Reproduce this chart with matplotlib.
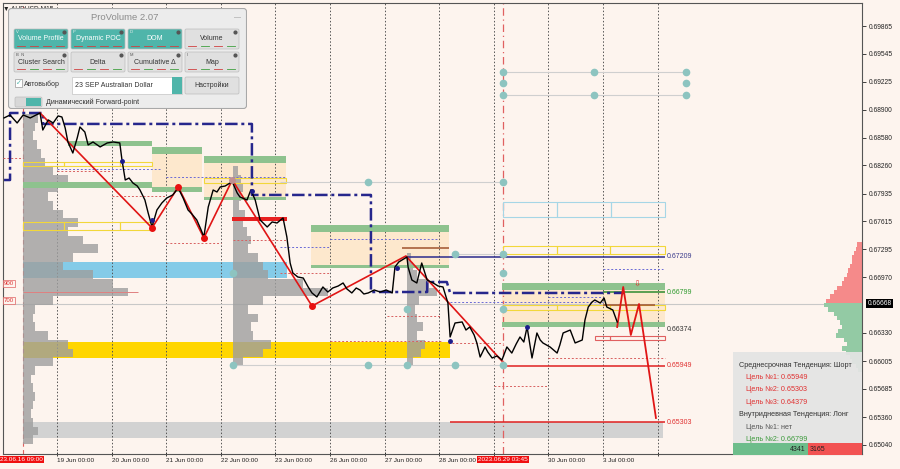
import matplotlib
matplotlib.use('Agg')
import matplotlib.pyplot as plt
import matplotlib.transforms as mtransforms
from matplotlib.patches import Rectangle, FancyBboxPatch

plt.rcParams['font.family'] = ['Liberation Sans', 'DejaVu Sans']

BG = '#fdf4ee'
PX_PER_DAY = 54.6          # width scale for the volume profiles
X_MIN, X_MAX = -0.989, 14.744
Y_MIN, Y_MAX = 0.64935, 0.70130

# ---------------- data ----------------
# x = trading days after 19 Jun 00:00 (weekend skipped), y = AUDUSD price
date_ticks = [0, 1, 2, 3, 4, 5, 6, 7, 8, 9, 10, 11]
date_labels = ['19 Jun 00:00', '20 Jun 00:00', '21 Jun 00:00', '22 Jun 00:00',
               '23 Jun 00:00', '26 Jun 00:00', '27 Jun 00:00', '28 Jun 00:00',
               '', '30 Jun 00:00', '3 Jul 00:00', '']
price_ticks = [0.69865, 0.69545, 0.69225, 0.68900, 0.68580, 0.68260, 0.67935,
               0.67615, 0.67295, 0.66970, 0.66330, 0.66005, 0.65685, 0.65360,
               0.65040]
last_price = 0.66668

price_t = [-0.97, -0.86, -0.73, -0.62, -0.49, -0.31, -0.26, -0.16, -0.07, 0.02,
           0.09, 0.15, 0.20, 0.29, 0.37, 0.42, 0.51, 0.57, 0.66, 0.79,
           0.92, 1.03, 1.15, 1.19, 1.25, 1.32, 1.39, 1.47, 1.52, 1.61,
           1.67, 1.74, 1.83, 1.92, 2.01, 2.12, 2.22, 2.31, 2.40, 2.47,
           2.56, 2.64, 2.69, 2.77, 2.86, 2.93, 2.99, 3.08, 3.17, 3.22,
           3.30, 3.35, 3.48, 3.55, 3.63, 3.72, 3.85, 3.94, 4.03, 4.14,
           4.21, 4.27, 4.32, 4.41, 4.51, 4.60, 4.67, 4.76, 4.87, 4.96,
           5.05, 5.15, 5.24, 5.31, 5.40, 5.48, 5.55, 5.62, 5.70, 5.81,
           5.92, 6.03, 6.14, 6.19, 6.26, 6.32, 6.41, 6.43, 6.50, 6.59,
           6.68, 6.78, 6.89, 6.98, 7.07, 7.16, 7.20, 7.29, 7.42, 7.49,
           7.56, 7.64, 7.69, 7.75, 7.84, 7.89, 7.97, 8.06, 8.15, 8.24,
           8.33, 8.41, 8.48, 8.55, 8.61, 8.70, 8.79, 8.85, 8.90, 9.03,
           9.16, 9.21, 9.27, 9.40, 9.49, 9.62, 9.67, 9.73, 9.80, 9.85,
           9.95, 10.02, 10.07, 10.18, 10.26]
price_p = [0.68806, 0.68840, 0.68748, 0.68840, 0.68806, 0.68863, 0.68667, 0.68783, 0.68748, 0.68829,
           0.68817, 0.68690, 0.68529, 0.68402, 0.68575, 0.68702, 0.68644, 0.68495, 0.68529, 0.68472,
           0.68518, 0.68529, 0.68518, 0.68322, 0.68091, 0.68114, 0.68057, 0.68022, 0.67976, 0.67861,
           0.67711, 0.67550, 0.67746, 0.67826, 0.67884, 0.67919, 0.67999, 0.67884, 0.67746, 0.67700,
           0.67631, 0.67515, 0.67435, 0.67780, 0.67976, 0.67953, 0.68011, 0.68022, 0.68057, 0.68057,
           0.67942, 0.67896, 0.67861, 0.67976, 0.67861, 0.67631, 0.67550, 0.67608, 0.67596, 0.67654,
           0.67435, 0.67135, 0.67020, 0.66974, 0.66962, 0.66859, 0.66790, 0.66744, 0.66859, 0.66801,
           0.66847, 0.66870, 0.66905, 0.66836, 0.66790, 0.66847, 0.66824, 0.66778, 0.66790, 0.66824,
           0.66801, 0.66824, 0.66790, 0.67089, 0.67147, 0.67170, 0.67204, 0.67089, 0.66939, 0.66905,
           0.67135, 0.66939, 0.66905, 0.66870, 0.66859, 0.66674, 0.66283, 0.66444, 0.66456, 0.66363,
           0.66398, 0.66306, 0.66214, 0.66052, 0.66168, 0.66110, 0.66041, 0.66064, 0.66018, 0.66168,
           0.66098, 0.66202, 0.66283, 0.66225, 0.66398, 0.66041, 0.66329, 0.66248, 0.66214, 0.66168,
           0.66098, 0.66191, 0.66329, 0.66363, 0.66214, 0.66248, 0.66479, 0.66628, 0.66686, 0.66709,
           0.66674, 0.66732, 0.66628, 0.66594, 0.66456]

# zigzag trend (history) and projected path
zig_t = [-0.31, 1.74, 2.22, 2.69, 3.21, 4.67, 6.39, 8.15]
zig_p = [0.68863, 0.67539, 0.68011, 0.67424, 0.68091, 0.66640, 0.67216, 0.66006]
proj_t = [10.26, 10.37, 10.51, 10.66, 10.97]
proj_p = [0.66398, 0.66859, 0.66306, 0.66663, 0.65350]

# dash-dot level path
navy_t = [-0.97, -0.86, -0.86, -0.26, -0.26, 3.57, 3.57, 5.75, 5.75, 6.78, 6.78, 7.14, 7.20, 10.40]
navy_p = [0.68091, 0.68091, 0.68863, 0.68863, 0.68737, 0.68737, 0.67919, 0.67919,
          0.66801, 0.66801, 0.66916, 0.66916, 0.66790, 0.66790]

# volume profiles (levels, volumes in px of width)
big_prof_levels = [0.688, 0.687, 0.686, 0.685, 0.684, 0.683, 0.682, 0.681, 0.680, 0.679,
                   0.678, 0.677, 0.676, 0.675, 0.674, 0.673, 0.672, 0.671, 0.670, 0.669,
                   0.668, 0.667, 0.666, 0.665, 0.664, 0.663, 0.662, 0.661, 0.660, 0.659,
                   0.658, 0.657, 0.656, 0.655, 0.654, 0.653, 0.652, 0.651]
big_prof_vol = [15, 12, 10, 14, 18, 22, 30, 45, 35, 25, 30, 40, 55, 45, 60, 75, 50, 40, 70, 90,
                105, 30, 12, 10, 12, 25, 45, 50, 30, 12, 8, 10, 12, 10, 8, 10, 15, 10]
mid_prof_levels = [0.682, 0.681, 0.680, 0.679, 0.678, 0.677, 0.676, 0.675, 0.674, 0.673, 0.672,
                   0.671, 0.670, 0.669, 0.668, 0.667, 0.666, 0.665, 0.664, 0.663, 0.662, 0.661, 0.660]
mid_prof_vol = [5, 8, 10, 8, 6, 12, 10, 14, 18, 15, 25, 30, 35, 70, 95, 30, 15, 25, 18, 20, 38, 30, 10]
small_prof_levels = [0.672, 0.671, 0.670, 0.669, 0.668, 0.667, 0.666, 0.665, 0.664, 0.663,
                     0.662, 0.661, 0.660]
small_prof_vol = [4, 6, 10, 22, 30, 12, 8, 10, 16, 10, 18, 14, 6]
profile_starts = [-0.62, 3.22, 6.41]

right_prof_levels = [0.6735, 0.6730, 0.6725, 0.6720, 0.6715, 0.6710, 0.6705, 0.6700, 0.6695, 0.6690,
                     0.6685, 0.6680, 0.6675, 0.6670, 0.6665, 0.6660, 0.6655, 0.6650, 0.6645, 0.6640,
                     0.6635, 0.6630, 0.6625, 0.6620, 0.6615, 0.6610, 0.6605, 0.6600, 0.6595, 0.6590]
right_prof_vol = [5, 6, 8, 10, 10, 12, 14, 15, 18, 20, 25, 28, 32, 36,
                  38, 34, 28, 25, 22, 20, 24, 26, 18, 15, 20, 16, 12, 10, 6, 4]
right_spike_levels = [0.69865, 0.69773, 0.69670, 0.69566, 0.69462, 0.69370, 0.69267,
                      0.69163, 0.69071, 0.68967, 0.68368, 0.67988, 0.67700, 0.67515]
right_spike_vol = [25, 23, 28, 25, 23, 25, 23, 25, 23, 10, 35, 42, 38, 5]

# zones: (t0, t1, low, high)
green_zones = [(0.20, 1.74, 0.68483, 0.68541), (-0.62, 1.74, 0.67999, 0.68068),
               (1.74, 2.66, 0.68391, 0.68472), (1.74, 2.66, 0.67953, 0.68011),
               (2.69, 4.19, 0.68287, 0.68368), (2.69, 4.19, 0.67861, 0.67896),
               (4.65, 7.18, 0.67492, 0.67573), (4.65, 7.18, 0.67078, 0.67112),
               (8.15, 11.14, 0.66824, 0.66905), (8.15, 11.14, 0.66398, 0.66456)]
cream_zones = [(1.74, 2.66, 0.68011, 0.68391), (2.69, 4.19, 0.67896, 0.68287),
               (4.65, 7.18, 0.67112, 0.67492), (8.15, 11.14, 0.66456, 0.66824)]
blue_zone = (-0.62, 4.21, 0.66962, 0.67147)
gold_zone = (-0.62, 7.20, 0.66041, 0.66225)
grey_zone = (-0.62, 11.10, 0.65119, 0.65303)
red_zone = (3.21, 4.21, 0.67619, 0.67665)

yellow_boxes = [(-0.62, 0.13, 0.68253, 0.68299), (0.13, 1.15, 0.68253, 0.68299), (1.15, 1.74, 0.68253, 0.68299),
                (-0.62, 0.13, 0.67515, 0.67608), (0.13, 1.15, 0.67515, 0.67608), (1.15, 1.74, 0.67515, 0.67608),
                (2.69, 3.21, 0.68057, 0.68114), (3.21, 4.19, 0.68057, 0.68114),
                (8.17, 9.16, 0.67239, 0.67331), (9.16, 10.13, 0.67239, 0.67331), (10.13, 11.14, 0.67239, 0.67331),
                (8.17, 9.16, 0.66593, 0.66651), (9.16, 10.13, 0.66593, 0.66651), (10.13, 11.14, 0.66593, 0.66651)]
red_boxes = [(9.85, 10.13, 0.66248, 0.66294), (10.13, 11.14, 0.66248, 0.66294)]
cyan_boxes = [(8.17, 9.16, 0.67665, 0.67838), (9.16, 10.15, 0.67665, 0.67838), (10.15, 11.14, 0.67665, 0.67838)]

blue_dotted = [(0.0, 1.89, 0.68218), (1.99, 4.19, 0.68126), (4.08, 5.00, 0.67319),
               (5.00, 6.98, 0.67412), (7.20, 10.00, 0.66686), (9.00, 10.00, 0.66744),
               (10.00, 11.10, 0.67066)]
red_dotted = [(-0.99, -0.62, 0.68345), (0.0, 1.00, 0.68195), (1.0, 2.00, 0.67907),
              (2.0, 3.00, 0.67366), (3.22, 4.19, 0.67400), (4.08, 5.00, 0.67020),
              (5.00, 7.04, 0.66237), (6.04, 7.04, 0.66525), (7.16, 8.17, 0.66214),
              (9.00, 11.14, 0.66041), (8.00, 9.00, 0.65718)]
grey_links = [(8.17, 11.52, 0.69336), (8.17, 11.52, 0.69071), (4.08, 8.17, 0.68068),
              (3.22, 8.17, 0.65960), (7.29, 8.17, 0.67239)]
teal_dots_t = [3.22, 5.70, 6.41, 7.29, 8.17, 5.70, 8.17, 6.41, 8.17, 7.29, 8.17, 8.17,
               8.17, 8.17, 8.17, 9.84, 9.84, 11.52, 11.52, 11.52, 3.22]
teal_dots_p = [0.65960, 0.65960, 0.65960, 0.65960, 0.65960, 0.68068, 0.68068, 0.66605, 0.66605,
               0.67239, 0.67239, 0.67020, 0.69336, 0.69209, 0.69071, 0.69336, 0.69071,
               0.69336, 0.69209, 0.69071, 0.67020]
swing_red_t = [1.74, 2.22, 2.69, 4.67]
swing_red_p = [0.67539, 0.68011, 0.67424, 0.66640]
navy_dots_t = [1.19, 1.74, 3.57, 6.23, 7.20, 8.61]
navy_dots_p = [0.68310, 0.67631, 0.67965, 0.67078, 0.66237, 0.66398]

# solid level lines: (t0, t1, price, colour)
levels = [(6.41, 11.14, 0.67209, '#2b2b8c'), (6.32, 7.18, 0.67308, '#a0522d'),
          (10.00, 10.95, 0.66652, '#a0522d'), (10.00, 11.14, 0.66799, '#2e8b2e'),
          (8.17, 11.14, 0.65949, '#e02020'), (7.20, 11.14, 0.65303, '#e02020')]
target_labels = [('0.67209', 0.67209, '#3a3a8c'), ('0.66799', 0.66799, '#2e9a2e'),
                 ('0.66374', 0.66374, '#333333'), ('0.65949', 0.65949, '#e03030'),
                 ('0.65303', 0.65303, '#e03030')]

# ---------------- figure ----------------
fig = plt.figure(figsize=(9, 4.69), dpi=100, facecolor=BG)
ax = fig.add_axes([3 / 900, 15 / 469, 859 / 900, 451 / 469], facecolor=BG)
ax.set_xlim(X_MIN, X_MAX)
ax.set_ylim(Y_MIN, Y_MAX)


def rect(zone, **kw):
    t0, t1, lo, hi = zone
    ax.add_patch(Rectangle((t0, lo), t1 - t0, hi - lo, **kw))


for t in date_ticks:
    ax.axvline(t, color='#555555', ls=(0, (1.5, 2)), lw=0.7, zorder=1.5)
ax.axvline(-0.62, color='#e06060', ls=(0, (4, 3)), lw=0.8, zorder=1.6)
ax.axvline(8.17, color='#e06060', ls=(0, (6, 3, 1, 3)), lw=0.9, zorder=1.6)

for z in cream_zones:
    rect(z, color='#fde6c8', lw=0, alpha=0.85, zorder=1)
rect(blue_zone, color='#84cbe8', lw=0, zorder=1.2)
rect(gold_zone, color='#ffd600', lw=0, zorder=1.2)
rect(grey_zone, color='#d2d2d2', lw=0, zorder=1.2)

ax.axhline(last_price, color='#c8c8c8', lw=0.8, zorder=1.8)

for start, lv, vol in [(profile_starts[0], big_prof_levels, big_prof_vol),
                       (profile_starts[1], mid_prof_levels, mid_prof_vol),
                       (profile_starts[2], small_prof_levels, small_prof_vol)]:
    ax.barh(lv, [v / PX_PER_DAY for v in vol], height=0.001, left=start,
            color='#9e9e9e', alpha=0.8, lw=0, zorder=2)

rv = [v / PX_PER_DAY for v in right_prof_vol]
rcol = ['#f58a8a' if lv > last_price else '#93caa4' for lv in right_prof_levels]
ax.barh(right_prof_levels, rv, height=0.0005, left=[X_MAX - w for w in rv],
        color=rcol, lw=0, zorder=2)
sv = [v / PX_PER_DAY for v in right_spike_vol]
ax.barh(right_spike_levels, sv, height=0.00008, left=[X_MAX - w for w in sv],
        color='#f4a4a4', lw=0, zorder=2)

for z in green_zones:
    rect(z, color='#8ec28e', lw=0, zorder=3)
rect(red_zone, color='#e82020', lw=0, zorder=3)
for z in yellow_boxes:
    rect(z, fill=False, edgecolor='#f2d73a', lw=0.8, zorder=3.2)
for z in red_boxes:
    rect(z, fill=False, edgecolor='#e06060', lw=0.8, zorder=3.2)
for z in cyan_boxes:
    rect(z, fill=False, edgecolor='#a6d6e6', lw=0.8, zorder=3.2)

for t0, t1, p in blue_dotted:
    ax.hlines(p, t0, t1, color='#6a6ad6', ls=(0, (2, 2)), lw=0.7, zorder=3.3)
for t0, t1, p in red_dotted:
    ax.hlines(p, t0, t1, color='#d86060', ls=(0, (2, 2)), lw=0.7, zorder=3.3)
for t0, t1, p in grey_links:
    ax.hlines(p, t0, t1, color='#cfcfcf', lw=0.8, zorder=3.3)
for t0, t1, p, c in levels:
    ax.hlines(p, t0, t1, color=c, lw=1.1, zorder=3.5)
ax.hlines(0.6680, -0.62, 1.48, color='#e08080', lw=0.7, zorder=3.3)

ax.plot(navy_t, navy_p, color='#26268c', lw=1.8, ls=(0, (5, 1.5, 1.2, 1.5)), zorder=4)
ax.plot(teal_dots_t, teal_dots_p, 'o', color='#8dc4c0', ms=4.5, zorder=4.2)
ax.plot(zig_t, zig_p, color='#e01515', lw=1.2, zorder=5)
ax.plot(proj_t, proj_p, color='#e01515', lw=1.3, zorder=5)
ax.plot(price_t, price_p, color='black', lw=1.0, zorder=6)
ax.plot(swing_red_t, swing_red_p, 'o', color='#e81010', ms=4, zorder=6.5)
ax.plot([3.21], [0.68091], 'o', color='#c09090', ms=4, zorder=6.5)
ax.plot(navy_dots_t, navy_dots_p, 'o', color='#1c1c8c', ms=2.5, zorder=6.5)
ax.text(10.62, 0.6689, '⇩', color='#e03030', fontsize=6, ha='center', va='center',
        family=['DejaVu Sans'], zorder=7)

for txt, p, c in target_labels:
    ax.text(11.17, p, txt, color=c, fontsize=5, ha='left', va='center', zorder=7)
for txt, p in [('900', 0.66900), ('700', 0.66700)]:
    ax.text(-0.975, p, txt, color='#e03030', fontsize=4.3, ha='left', va='center', zorder=7,
            bbox=dict(facecolor=BG, edgecolor='#e06060', lw=0.5, pad=0.6))
ax.text(0.0, 0.995, '▼ AUDUSD,M15', transform=ax.transAxes, fontsize=4.8,
        ha='left', va='top', color='#222222')

# axes styling
for s in ax.spines.values():
    s.set_color('#555555')
    s.set_linewidth(0.8)
ax.yaxis.tick_right()
ax.set_yticks(price_ticks)
ax.set_yticklabels(['%.5f' % v for v in price_ticks])
ax.tick_params(axis='y', labelsize=4.8, length=3, pad=2, colors='#222222', width=0.6)
ax.set_xticks(date_ticks)
ax.set_xticklabels(date_labels, ha='left')
ax.tick_params(axis='x', labelsize=4.6, length=3, pad=1.5, direction='inout',
               colors='#222222', width=0.6)

blend = mtransforms.blended_transform_factory(ax.transData, ax.transAxes)
below = mtransforms.offset_copy(blend, fig=fig, x=0, y=-2.2, units='points')
ax.text(-1.045, 0, '23.06.16 09:00', transform=below, fontsize=4.6, color='white',
        ha='left', va='top', clip_on=False, zorder=10,
        bbox=dict(facecolor='#f01010', edgecolor='none', pad=0.9))
ax.text(8.17, 0, '2023.06.29 03:45', transform=below, fontsize=4.6, color='white',
        ha='center', va='top', clip_on=False, zorder=10,
        bbox=dict(facecolor='#f01010', edgecolor='none', pad=0.9))
rblend = mtransforms.blended_transform_factory(ax.transAxes, ax.transData)
rright = mtransforms.offset_copy(rblend, fig=fig, x=4, y=0, units='points')
ax.text(1.0, last_price, '%.5f' % last_price, transform=rright, fontsize=4.8,
        color='white', ha='left', va='center', clip_on=False, zorder=10,
        bbox=dict(facecolor='black', edgecolor='none', pad=0.9))

# ---------------- info box ----------------
info = fig.add_axes([733 / 900, 14 / 469, 129 / 900, 103 / 469])
info.set_xlim(0, 129)
info.set_ylim(103, 0)
info.axis('off')
info.add_patch(Rectangle((0, 0), 129, 91, color='#e4e4e4', alpha=0.93, lw=0))
info.add_patch(Rectangle((0, 91), 75, 12, color='#6dbd8b', lw=0))
info.add_patch(Rectangle((75, 91), 54, 12, color='#f25252', lw=0))
info_lines = [(6, 13, 'Среднесрочная Тенденция: Шорт', '#333333'),
              (13, 25, 'Цель №1: 0.65949', '#e03030'),
              (13, 37, 'Цель №2: 0.65303', '#e03030'),
              (13, 50, 'Цель №3: 0.64379', '#e03030'),
              (6, 62, 'Внутридневная Тенденция: Лонг', '#333333'),
              (13, 75, 'Цель №1: нет', '#555555'),
              (13, 87, 'Цель №2: 0.66799', '#3c9a3c')]
for x, y, txt, c in info_lines:
    info.text(x, y, txt, color=c, fontsize=5.2, ha='left', va='center')
info.text(73, 97, '4341', fontsize=5, color='#222222', ha='right', va='center')
info.text(77, 97, '3165', fontsize=5, color='#222222', ha='left', va='center')

# ---------------- ProVolume panel ----------------
TEAL = '#4fb5aa'
pw, ph = 239, 101
pan = fig.add_axes([8 / 900, 1 - (8 + ph) / 469, pw / 900, ph / 469])
pan.set_xlim(0, pw)
pan.set_ylim(ph, 0)
pan.axis('off')
pan.add_patch(FancyBboxPatch((0.5, 0.5), pw - 1, ph - 1, boxstyle='round,pad=0,rounding_size=3',
                             facecolor='#ececec', edgecolor='#a8a8a8', lw=0.8))
pan.text(117, 9.5, 'ProVolume 2.07', fontsize=6.8, color='#8c8c8c', ha='center', va='center')
pan.text(230, 10, '—', fontsize=5, color='#999999', ha='center', va='center')

buttons = [('Volume Profile', 6, 21, True, 'V'), ('Dynamic POC', 63, 21, True, 'P'),
           ('DOM', 120, 21, True, 'D'), ('Volume', 177, 21, False, ''),
           ('Cluster Search', 6, 44, False, 'B  N'), ('Delta', 63, 44, False, ''),
           ('Cumulative Δ', 120, 44, False, 'M'), ('Map', 177, 44, False, 'I')]
for label, x, y, on, key in buttons:
    w = 54
    pan.add_patch(FancyBboxPatch((x, y), w, 20, boxstyle='round,pad=0,rounding_size=1.5',
                                 facecolor=TEAL if on else '#e0e0e0',
                                 edgecolor='#bdbdbd', lw=0.5))
    pan.text(x + w / 2, y + 10, label, fontsize=5, ha='center', va='center',
             color='white' if on else '#333333')
    pan.text(x + 2, y + 3, key, fontsize=3, ha='left', va='center',
             color='#eeeeee' if on else '#555555')
    pan.plot([x + w - 4], [y + 3], 'o', ms=2, color='#555555')
    for k in range(4):
        pan.plot([x + 3 + k * 13, x + 11 + k * 13], [y + 17.5, y + 17.5],
                 color='#d04040' if (on or k % 2 == 0) else '#40a040', lw=0.6)

pan.add_patch(Rectangle((7, 71), 7, 8, facecolor='white', edgecolor='#999999', lw=0.5))
pan.text(10.5, 74.5, '✓', fontsize=5, color=TEAL, ha='center', va='center',
         family=['DejaVu Sans'])
pan.text(16, 76, 'Автовыбор', fontsize=5, color='#333333', ha='left', va='center')
pan.add_patch(Rectangle((64, 69), 110, 17, facecolor='white', edgecolor='#c4c4c4', lw=0.5))
pan.add_patch(Rectangle((164, 69), 10, 17, facecolor=TEAL, lw=0))
pan.text(67, 77.5, '23 SEP Australian Dollar', fontsize=5, color='#333333',
         ha='left', va='center')
pan.add_patch(FancyBboxPatch((177, 69), 54, 17, boxstyle='round,pad=0,rounding_size=1.5',
                             facecolor='#e0e0e0', edgecolor='#bdbdbd', lw=0.5))
pan.text(204, 77.5, 'Настройки', fontsize=5, color='#333333', ha='center', va='center')
pan.add_patch(FancyBboxPatch((7, 89), 27, 10, boxstyle='round,pad=0,rounding_size=1.5',
                             facecolor='#d8d8d8', edgecolor='#bdbdbd', lw=0.5))
pan.add_patch(Rectangle((18, 90), 15, 8, facecolor=TEAL, lw=0))
pan.text(38, 94, 'Динамический Forward-point', fontsize=5, color='#333333',
         ha='left', va='center')

fig.savefig('out.png', dpi=100, facecolor=BG)
